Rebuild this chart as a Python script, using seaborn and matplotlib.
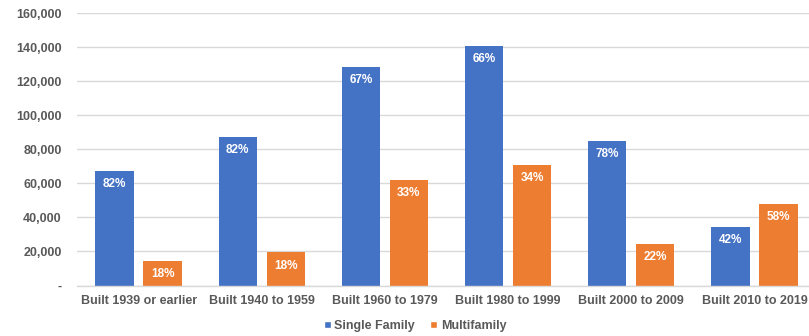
import matplotlib
matplotlib.use("Agg")
import matplotlib.pyplot as plt
import seaborn as sns
import pandas as pd
from matplotlib.patches import Patch

categories = ["Built 1939 or earlier", "Built 1940 to 1959", "Built 1960 to 1979",
              "Built 1980 to 1999", "Built 2000 to 2009", "Built 2010 to 2019"]
single_family = [67400, 87400, 128400, 140800, 85000, 34600]
multifamily = [14600, 19400, 62200, 71000, 24600, 48100]
single_pct = ["82%", "82%", "67%", "66%", "78%", "42%"]
multi_pct = ["18%", "18%", "33%", "34%", "22%", "58%"]
series = ["Single Family", "Multifamily"]
y_ticks = [0, 20000, 40000, 60000, 80000, 100000, 120000, 140000, 160000]
y_labels = ["-", "20,000", "40,000", "60,000", "80,000", "100,000", "120,000", "140,000", "160,000"]

colors = {"Single Family": "#4472C4", "Multifamily": "#ED7D31"}

df = pd.DataFrame({
    "category": categories * 2,
    "series": [series[0]] * len(categories) + [series[1]] * len(categories),
    "value": single_family + multifamily,
    "pct": single_pct + multi_pct,
})

sns.set_theme(style="white")
plt.rcParams["font.family"] = ["Liberation Sans", "DejaVu Sans"]

fig = plt.figure(figsize=(8.09, 3.36), dpi=100)
ax = fig.add_axes([77 / 809, 1 - 285.5 / 336, 739 / 809, (285.5 - 13) / 336])

sns.barplot(data=df, x="category", y="value", hue="series", order=categories,
            hue_order=series, palette=colors, width=0.78, gap=0.2, ax=ax,
            legend=False, saturation=1, linewidth=0)

# percentage labels
for container, labels in zip(ax.containers, [single_pct, multi_pct]):
    for bar, lab in zip(container, labels):
        x = bar.get_x() + bar.get_width() / 2
        y = bar.get_height()
        ax.annotate(lab, (x, y), xytext=(0, -5.5), textcoords="offset points",
                    ha="center", va="top", color="white", fontsize=8.5,
                    fontweight="bold")

ax.set_xlim(-0.5, 5.5)
ax.set_ylim(0, 160000)
ax.set_yticks(y_ticks)
ax.set_yticklabels(y_labels)
ax.yaxis.grid(True, color="#D9D9D9", linewidth=1)
ax.set_axisbelow(True)
for s in ["top", "right", "left"]:
    ax.spines[s].set_visible(False)
ax.spines["bottom"].set_color("#D9D9D9")
ax.spines["bottom"].set_linewidth(1)
ax.set_xlabel("")
ax.set_ylabel("")
ax.tick_params(axis="both", length=0, colors="#595959", labelsize=9)
ax.tick_params(axis="x", pad=7)
ax.tick_params(axis="y", pad=11)
for t in ax.get_xticklabels() + ax.get_yticklabels():
    t.set_fontweight("bold")
    t.set_color("#595959")

handles = [Patch(facecolor=colors[s], label=s) for s in series]
fig.legend(handles=handles, loc="center", bbox_to_anchor=(415 / 809, 1 - 326 / 336),
           ncol=2, frameon=False, handlelength=0.55, handleheight=0.55,
           handletextpad=0.3, columnspacing=1.2,
           prop={"size": 9, "weight": "bold"}, labelcolor="#595959")

fig.savefig("out.png", dpi=100)
